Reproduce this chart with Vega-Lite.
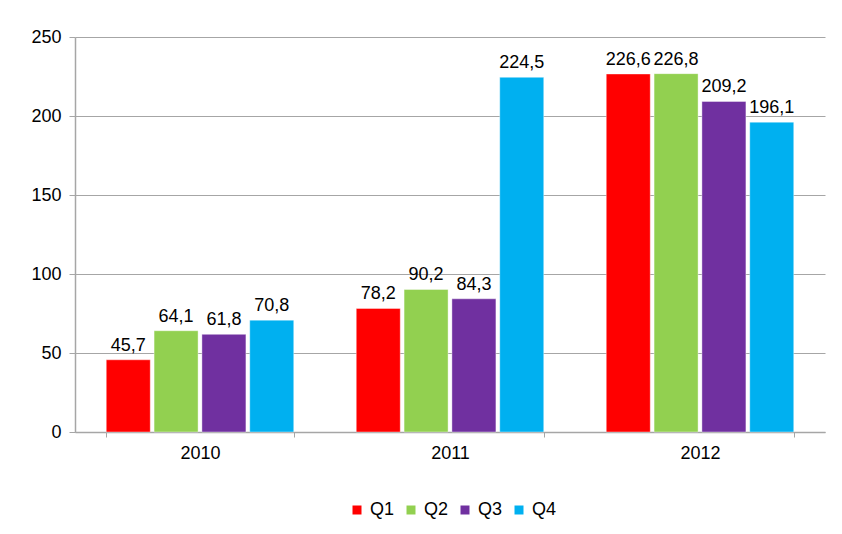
{
  "$schema": "https://vega.github.io/schema/vega-lite/v6.json",
  "width": 750,
  "height": 395,
  "autosize": {"type": "none"},
  "padding": {"left": 75, "top": 37, "right": 17, "bottom": 102},
  "background": "white",
  "config": {
    "locale": {"number": {"decimal": ",", "thousands": ".", "grouping": [3], "currency": ["", " €"]}},
    "view": {"stroke": null},
    "font": "Liberation Sans",
    "axis": {"labelFont": "Liberation Sans", "labelFontSize": 18, "labelColor": "#000000", "domainColor": "#a6a6a6", "tickColor": "#a6a6a6", "gridColor": "#a6a6a6", "title": null}
  },
  "data": {
    "values": [
      {"year": "2010", "q": "Q1", "v": 45.7},
      {"year": "2010", "q": "Q2", "v": 64.1},
      {"year": "2010", "q": "Q3", "v": 61.8},
      {"year": "2010", "q": "Q4", "v": 70.8},
      {"year": "2011", "q": "Q1", "v": 78.2},
      {"year": "2011", "q": "Q2", "v": 90.2},
      {"year": "2011", "q": "Q3", "v": 84.3},
      {"year": "2011", "q": "Q4", "v": 224.5},
      {"year": "2012", "q": "Q1", "v": 226.6},
      {"year": "2012", "q": "Q2", "v": 226.8},
      {"year": "2012", "q": "Q3", "v": 209.2},
      {"year": "2012", "q": "Q4", "v": 196.1}
    ]
  },
  "encoding": {
    "x": {"field": "year", "type": "nominal", "scale": {"paddingInner": 0.25, "paddingOuter": 0.125},
      "axis": {"labelAngle": 0, "tickBand": "extent", "tickSize": 5, "labelPadding": 7, "domainWidth": 1.5}},
    "xOffset": {"field": "q", "type": "nominal", "scale": {"paddingInner": 0.08}},
    "y": {"field": "v", "type": "quantitative", "scale": {"domain": [0, 250]},
      "axis": {"values": [0, 50, 100, 150, 200, 250], "tickSize": 6, "labelPadding": 8, "grid": true, "gridWidth": 1, "domainWidth": 1.5}}
  },
  "layer": [
    {
      "mark": {"type": "bar", "stroke": "white", "strokeWidth": 0.8, "strokeOpacity": 0.5},
      "encoding": {
        "color": {"field": "q", "type": "nominal", "title": null,
          "scale": {"domain": ["Q1", "Q2", "Q3", "Q4"], "range": ["#ff0000", "#92d050", "#7030a0", "#00b0f0"]},
          "legend": {"orient": "none", "legendX": 273, "legendY": 464, "direction": "horizontal", "symbolType": "square", "symbolSize": 81, "symbolStrokeWidth": 0, "labelFontSize": 18, "labelFont": "Liberation Sans", "labelColor": "#000000", "labelOffset": 4, "columnPadding": 7}}
      }
    },
    {
      "mark": {"type": "text", "baseline": "alphabetic", "dy": -9, "fontSize": 18, "font": "Liberation Sans", "color": "#000000"},
      "encoding": {"text": {"field": "v", "type": "quantitative", "format": ".1f"}}
    }
  ]
}
